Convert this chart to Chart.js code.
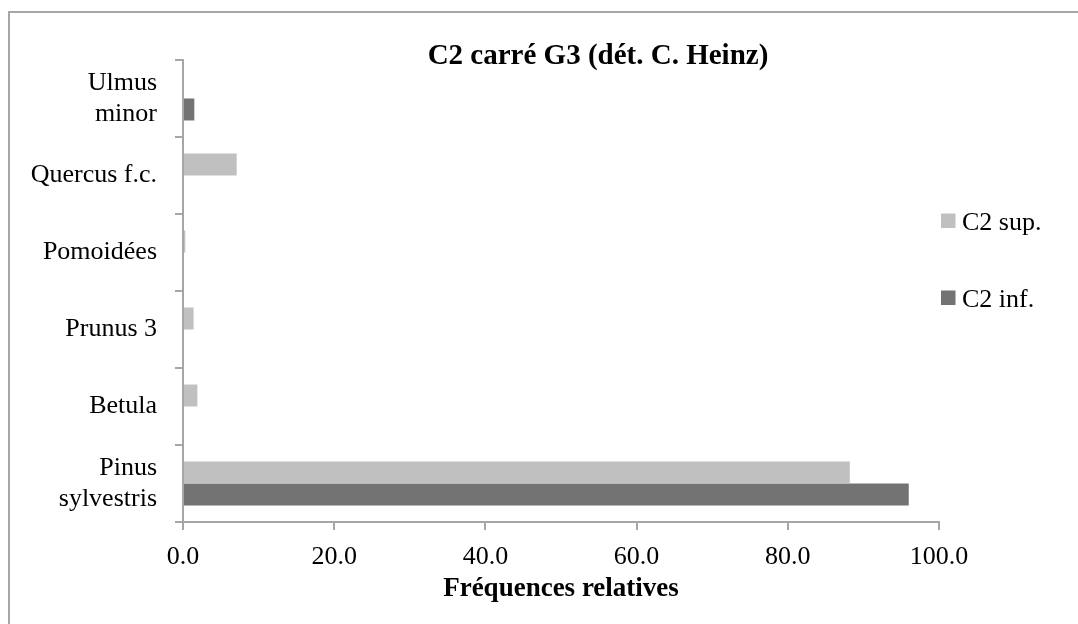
<!DOCTYPE html>
<html>
<head>
<meta charset="utf-8">
<script src="https://cdn.jsdelivr.net/npm/chart.js@4"></script>
<style>
  html, body { margin: 0; padding: 0; background: #fff; overflow: hidden; }
  #wrap { position: relative; width: 1078px; height: 624px; }
  #frame { position: absolute; left: 8px; top: 11px; width: 1200px; height: 800px; border: 2px solid #a6a6a6; }
  #myChart { position: absolute; left: 0; top: 0; }
</style>
</head>
<body>
<div id="wrap">
  <div id="frame"></div>
  <canvas id="myChart" width="1078" height="624"></canvas>
</div>
<script>
const categories = [["Ulmus", "minor"], "Quercus f.c.", "Pomoidées", "Prunus 3", "Betula", ["Pinus", "sylvestris"]];
const supValues = [0, 7.1, 0.3, 1.4, 1.9, 88.2];
const infValues = [1.5, 0, 0, 0, 0, 96.0];
const xTicks = [0, 20, 40, 60, 80, 100];

const serif = "'Liberation Serif', 'Times New Roman', serif";
const axisGray = "#a6a6a6";

// titre + légende dessinés à la main (positions comme dans Excel)
const titleAndLegend = {
  id: "titleAndLegend",
  afterDraw(chart) {
    const c = chart.ctx;
    c.save();
    c.fillStyle = "#000";
    c.textAlign = "center";
    c.textBaseline = "alphabetic";
    c.font = "bold 29px " + serif;
    c.fillText("C2 carré G3 (dét. C. Heinz)", 598, 64);

    c.textAlign = "left";
    c.font = "26px " + serif;
    chart.data.datasets.forEach((ds, i) => {
      c.fillStyle = ds.backgroundColor;
      c.fillRect(941, 213.5 + i * 77, 14.5, 14.5);
      c.fillStyle = "#000";
      c.fillText(ds.label, 962, 230 + i * 77);
    });
    c.restore();
  },
};

Chart.defaults.font.family = serif;
Chart.defaults.color = "#000";

const ctx = document.getElementById("myChart");

const chart = new Chart(ctx, {
  type: "bar",
  data: {
    labels: categories,
    datasets: [
      {
        label: "C2 sup.",
        data: supValues,
        backgroundColor: "#c0c0c0",
        borderWidth: 0,
        categoryPercentage: 0.571,
        barPercentage: 1,
      },
      {
        label: "C2 inf.",
        data: infValues,
        backgroundColor: "#737373",
        borderWidth: 0,
        categoryPercentage: 0.571,
        barPercentage: 1,
      },
    ],
  },
  options: {
    indexAxis: "y",
    responsive: false,
    animation: false,
    layout: {
      padding: { top: 60, right: 139, bottom: 0, left: 0 },
    },
    scales: {
      x: {
        min: 0,
        max: 100,
        afterBuildTicks: (s) => {
          s.ticks = xTicks.map((v) => ({ value: v }));
        },
        afterFit: (s) => {
          s.height = 102;
        },
        ticks: {
          padding: 12,
          font: { size: 26 },
          callback: (v) => Number(v).toFixed(1),
        },
        grid: {
          drawOnChartArea: false,
          tickLength: 8,
          color: axisGray,
          lineWidth: 2,
        },
        border: { color: axisGray, width: 2 },
        title: {
          display: true,
          text: "Fréquences relatives",
          font: { size: 27, weight: "bold" },
          padding: { top: 0, bottom: 19 },
        },
      },
      y: {
        afterFit: (s) => {
          s.width = 183;
        },
        ticks: {
          padding: 18,
          font: { size: 26 },
        },
        grid: {
          drawOnChartArea: false,
          tickLength: 8,
          color: axisGray,
          lineWidth: 2,
          offset: true,
        },
        border: { color: axisGray, width: 2 },
      },
    },
    plugins: {
      legend: { display: false },
      title: { display: false },
      tooltip: { enabled: false },
    },
  },
  plugins: [titleAndLegend],
});
</script>
</body>
</html>
